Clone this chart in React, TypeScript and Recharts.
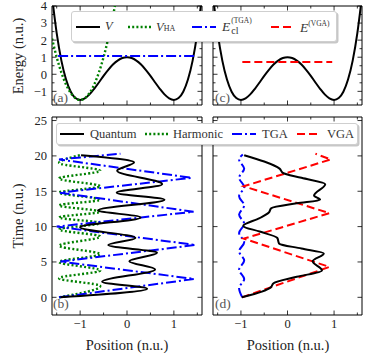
import React from "react";
import { LineChart, Line, XAxis, YAxis, ReferenceArea } from "recharts";

const SERIF = '"Liberation Serif", "DejaVu Serif", serif';
const INK = "#222";

// panels (a) and (c): double well V(x) on a position grid
const posGrid = [-1.6, -1.5, -1.4, -1.3, -1.2, -1.1, -1.0, -0.9, -0.8, -0.7, -0.6, -0.5, -0.4, -0.3, -0.2, -0.1, 0, 0.1, 0.2, 0.3, 0.4, 0.5, 0.6, 0.7, 0.8, 0.9, 1.0, 1.1, 1.2, 1.3, 1.4, 1.5, 1.6];
const potential = [4.58, 2.41, 0.8, -0.31, -1.02, -1.39, -1.5, -1.41, -1.18, -0.85, -0.48, -0.09, 0.26, 0.57, 0.8, 0.95, 1.0, 0.95, 0.8, 0.57, 0.26, -0.09, -0.48, -0.85, -1.18, -1.41, -1.5, -1.39, -1.02, -0.31, 0.8, 2.41, 4.58];

// harmonic approximation of the left well
const harmonicGrid = [-1.6, -1.5, -1.4, -1.3, -1.2, -1.1, -1.0, -0.9, -0.8, -0.7, -0.6, -0.5, -0.4, -0.3, -0.2];
const harmonicPot = [2.1, 1.0, 0.1, -0.6, -1.1, -1.4, -1.5, -1.4, -1.1, -0.6, 0.1, 1.0, 2.1, 3.4, 4.9];

// energy levels
const tgaLevelPos = [-1.47, 1.45];
const tgaLevel = [1.07, 1.07];
const vgaLevelPos = [-0.97, 0.96];
const vgaLevel = [0.72, 0.72];

// panel (b): trajectories, position (x) against time (y)
const quantumTimeB = [0, 1.2, 2.2, 3.95, 5.1, 6.3, 7.4, 8.4, 9.9, 11.3, 12.3, 13.8, 14.8, 16.0, 17.9, 19.1, 20.1];
const quantumPosB = [-1.42, 0.43, -0.53, 0.6, 0.05, 0.64, -0.4, 0.18, -1.0, 0.29, -0.62, 0.8, -0.22, 0.75, -0.21, 0.15, -0.98];
const harmonicTimeB = [0, 1.6, 2.7, 3.8, 5.0, 6.1, 7.3, 8.6, 9.6, 10.5, 11.3, 12.1, 13.0, 13.8, 14.8, 15.7, 16.8, 17.9, 19.0, 20.1];
const harmonicPosB = [-1.45, -0.57, -1.45, -0.57, -1.45, -0.57, -1.45, -0.57, -1.45, -0.57, -1.45, -0.57, -1.45, -0.57, -1.45, -0.57, -1.45, -0.57, -1.45, -1.0];
const tgaTimeB = [0, 2.6, 5.05, 7.4, 10.0, 12.1, 14.8, 16.9, 19.5, 20.3];
const tgaPosB = [-1.45, 1.43, -1.42, 1.46, -1.5, 1.42, -1.43, 1.38, -1.45, -0.14];

// panel (d)
const quantumTimeD = [0, 0.8, 1.4, 2.0, 2.9, 3.8, 5.1, 6.2, 6.9, 7.6, 8.4, 9.3, 10.1, 11.2, 12.0, 12.6, 13.3, 13.8, 14.4, 16.0, 16.9, 17.6, 18.2, 19.2, 20.1];
const quantumPosD = [-0.98, -0.55, -0.36, -0.3, 0.2, 0.74, 0.54, 0.78, 0.3, -0.18, -0.22, -0.6, -0.95, -0.6, -0.4, -0.35, 0.2, 0.7, 0.57, 0.81, 0.3, -0.1, -0.17, -0.5, -0.93];
const tgaTimeD = [0, 1.3, 2.6, 3.9, 5.2, 6.5, 7.8, 9.1, 10.4, 11.7, 13.0, 14.3, 15.6, 16.9, 18.2, 19.5, 20.2];
const tgaPosD = [-0.97, -1.04, -0.93, -1.04, -0.93, -1.04, -0.93, -1.04, -0.93, -1.04, -0.93, -1.04, -0.93, -1.04, -0.93, -1.04, -0.96];
const vgaTimeD = [0, 4.3, 8.3, 11.9, 15.7, 19.5, 20.3];
const vgaPosD = [-0.98, 0.9, -0.94, 0.9, -0.94, 0.93, 0.6];

const posTicks = [-1.5, -1, -0.5, 0, 0.5, 1, 1.5];
const energyTicks = [-1.5, -1, -0.5, 0, 0.5, 1, 1.5, 2, 2.5, 3, 3.5, 4];
const timeTicks = [0, 5, 10, 15, 20, 25];

const BLACK = "#000000";
const GREEN = "#008000";
const BLUE = "#0000ff";
const RED = "#ff0000";
const DOTTED = "2 2.2";
const DASHDOT = "10 3 2 3";
const DASHED = "8 4";

const fmt = (v: number) => (v < 0 ? `\u2212${Math.abs(v)}` : `${v}`);

type Series = {
  xs: number[];
  ys: number[];
  color: string;
  dash?: string;
  width?: number;
  curve: "monotone" | "monotoneY" | "linear";
};

const AXIS_W = 40;
const TOP_PAD = 8;

type PanelProps = {
  left: number;
  top: number;
  plotW: number;
  plotH: number;
  yDomain: [number, number];
  yTicks: number[];
  yMajor: (v: number) => boolean;
  showY: boolean;
  showX: boolean;
  series: Series[];
};

function Panel({ left, top, plotW, plotH, yDomain, yTicks, yMajor, showY, showX, series }: PanelProps) {
  const axisH = showX ? 24 : 4;

  const xTick = (p: any) => {
    const v = p.payload.value;
    const major = Number.isInteger(v);
    const len = major ? 4.5 : 2.5;
    return (
      <g>
        <line x1={p.x} x2={p.x} y1={p.y} y2={p.y - len} stroke="#000" strokeWidth={0.8} />
        <line x1={p.x} x2={p.x} y1={p.y - plotH} y2={p.y - plotH + len} stroke="#000" strokeWidth={0.8} />
        {showX && major && (
          <text x={p.x} y={p.y + 9} dy="0.35em" textAnchor="middle" fontFamily={SERIF} fontSize={12.5} fill={INK}>
            {fmt(v)}
          </text>
        )}
      </g>
    );
  };

  const yTick = (p: any) => {
    const v = p.payload.value;
    const major = yMajor(v);
    const len = major ? 4.5 : 2.5;
    return (
      <g>
        <line x1={p.x} x2={p.x + len} y1={p.y} y2={p.y} stroke="#000" strokeWidth={0.8} />
        <line x1={p.x + plotW} x2={p.x + plotW - len} y1={p.y} y2={p.y} stroke="#000" strokeWidth={0.8} />
        {showY && major && (
          <text x={p.x - 5} y={p.y} dy="0.35em" textAnchor="end" fontFamily={SERIF} fontSize={12.5} fill={INK}>
            {fmt(v)}
          </text>
        )}
      </g>
    );
  };

  return (
    <div style={{ position: "absolute", left: left - AXIS_W, top: top - TOP_PAD }}>
      <LineChart
        width={AXIS_W + plotW + 2}
        height={TOP_PAD + plotH + axisH}
        margin={{ top: TOP_PAD, right: 2, bottom: 0, left: 0 }}
      >
        <XAxis
          dataKey="x"
          type="number"
          domain={[-1.6, 1.6]}
          ticks={posTicks}
          interval={0}
          allowDataOverflow
          tick={xTick}
          tickLine={false}
          axisLine={false}
          tickSize={0}
          tickMargin={0}
          height={axisH}
        />
        <YAxis
          type="number"
          domain={yDomain}
          ticks={yTicks}
          interval={0}
          allowDataOverflow
          tick={yTick}
          tickLine={false}
          axisLine={false}
          tickSize={0}
          tickMargin={0}
          width={AXIS_W}
        />
        <ReferenceArea x1={-1.6} x2={1.6} y1={yDomain[0]} y2={yDomain[1]} fill="none" fillOpacity={0} stroke="#000" strokeWidth={1} />
        {series.map((s, i) => (
          <Line
            key={i}
            data={s.xs.map((x, j) => ({ x, y: s.ys[j] }))}
            dataKey="y"
            type={s.curve}
            stroke={s.color}
            strokeWidth={s.width ?? 2}
            strokeDasharray={s.dash}
            dot={false}
            activeDot={false}
            legendType="none"
            isAnimationActive={false}
          />
        ))}
      </LineChart>
    </div>
  );
}

const Sample = ({ x, cy, color, dash, width = 2 }: { x: number; cy: number; color: string; dash?: string; width?: number }) => (
  <svg width={24} height={6} style={{ position: "absolute", left: x, top: cy - 3 }}>
    <line x1={0} x2={24} y1={3} y2={3} stroke={color} strokeWidth={width} strokeDasharray={dash} />
  </svg>
);

const LegendText = ({ x, cy, children }: { x: number; cy: number; children: React.ReactNode }) => (
  <div
    style={{
      position: "absolute",
      left: x,
      top: cy,
      transform: "translateY(-50%)",
      fontFamily: SERIF,
      fontSize: 12.5,
      color: "#333",
      whiteSpace: "nowrap",
      lineHeight: 1,
    }}
  >
    {children}
  </div>
);

const boxStyle = (left: number, top: number, width: number, height: number): React.CSSProperties => ({
  position: "absolute",
  left,
  top,
  width,
  height,
  boxSizing: "border-box",
  background: "#fff",
  border: "1px solid #cfcfcf",
  borderRadius: 3,
  boxShadow: "1.5px 1.5px 0 rgba(0,0,0,0.22)",
});

const Tag = ({ x, cy, text }: { x: number; cy: number; text: string }) => (
  <div
    style={{
      position: "absolute",
      left: x,
      top: cy,
      transform: "translateY(-50%)",
      fontFamily: SERIF,
      fontSize: 13.5,
      color: "#555",
      lineHeight: 1,
    }}
  >
    {text}
  </div>
);

const AxisTitle = ({ cx, cy, text, vertical }: { cx: number; cy: number; text: string; vertical?: boolean }) => (
  <div
    style={{
      position: "absolute",
      left: cx,
      top: cy,
      transform: `translate(-50%, -50%)${vertical ? " rotate(-90deg)" : ""}`,
      fontFamily: SERIF,
      fontSize: 14.5,
      color: INK,
      whiteSpace: "nowrap",
      lineHeight: 1,
    }}
  >
    {text}
  </div>
);

export default function App() {
  const energyDomain: [number, number] = [-1.8, 4];
  const timeDomain: [number, number] = [-2.5, 25.5];
  const isInt = (v: number) => Number.isInteger(v);

  const seriesA: Series[] = [
    { xs: posGrid, ys: potential, color: BLACK, curve: "monotone" },
    { xs: harmonicGrid, ys: harmonicPot, color: GREEN, dash: DOTTED, width: 2.4, curve: "monotone" },
    { xs: tgaLevelPos, ys: tgaLevel, color: BLUE, dash: DASHDOT, curve: "linear" },
  ];
  const seriesC: Series[] = [
    { xs: posGrid, ys: potential, color: BLACK, curve: "monotone" },
    { xs: vgaLevelPos, ys: vgaLevel, color: RED, dash: DASHED, curve: "linear" },
  ];
  const seriesB: Series[] = [
    { xs: harmonicPosB, ys: harmonicTimeB, color: GREEN, dash: DOTTED, width: 2.4, curve: "monotoneY" },
    { xs: tgaPosB, ys: tgaTimeB, color: BLUE, dash: DASHDOT, curve: "linear" },
    { xs: quantumPosB, ys: quantumTimeB, color: BLACK, curve: "monotoneY" },
  ];
  const seriesD: Series[] = [
    { xs: tgaPosD, ys: tgaTimeD, color: BLUE, dash: DASHDOT, curve: "monotoneY" },
    { xs: vgaPosD, ys: vgaTimeD, color: RED, dash: DASHED, curve: "linear" },
    { xs: quantumPosD, ys: quantumTimeD, color: BLACK, curve: "monotoneY" },
  ];

  return (
    <div style={{ position: "absolute", left: 0, top: 0, width: 374, height: 353, background: "#fff" }}>
      <Panel left={52} top={6} plotW={150} plotH={99} yDomain={energyDomain} yTicks={energyTicks} yMajor={isInt} showY showX={false} series={seriesA} />
      <Panel left={213} top={6} plotW={149} plotH={99} yDomain={energyDomain} yTicks={energyTicks} yMajor={isInt} showY={false} showX={false} series={seriesC} />
      <Panel left={52} top={116.5} plotW={150} plotH={198} yDomain={timeDomain} yTicks={timeTicks} yMajor={isInt} showY showX series={seriesB} />
      <Panel left={213} top={116.5} plotW={149} plotH={198} yDomain={timeDomain} yTicks={timeTicks} yMajor={isInt} showY={false} showX series={seriesD} />

      <AxisTitle cx={18} cy={55.5} text="Energy (n.u.)" vertical />
      <AxisTitle cx={18} cy={215.5} text="Time (n.u.)" vertical />
      <AxisTitle cx={127} cy={345} text="Position (n.u.)" />
      <AxisTitle cx={288} cy={345} text="Position (n.u.)" />

      <Tag x={53} cy={97.5} text="(a)" />
      <Tag x={215} cy={97.5} text="(c)" />
      <Tag x={53} cy={304} text="(b)" />
      <Tag x={215} cy={304} text="(d)" />

      <div style={boxStyle(71, 11, 266, 31)}>
        <Sample x={4} cy={15} color={BLACK} />
        <LegendText x={33} cy={14}>
          <i>V</i>
        </LegendText>
        <Sample x={56} cy={15} color={GREEN} dash={DOTTED} width={2.4} />
        <LegendText x={84} cy={15}>
          <i>V</i>
          <span style={{ fontSize: 8 }}>HA</span>
        </LegendText>
        <Sample x={120} cy={15} color={BLUE} dash={DASHDOT} />
        <LegendText x={150} cy={14}>
          <span style={{ display: "inline-flex", alignItems: "center" }}>
            <i style={{ fontSize: 13.5 }}>E</i>
            <span style={{ display: "inline-flex", flexDirection: "column", lineHeight: 1, marginLeft: 1 }}>
              <span style={{ fontSize: 7.5 }}>(TGA)</span>
              <span style={{ fontSize: 10, marginTop: 1 }}>cl</span>
            </span>
          </span>
        </LegendText>
        <Sample x={199} cy={15} color={RED} dash={DASHED} />
        <LegendText x={228} cy={15}>
          <i style={{ fontSize: 13.5 }}>E</i>
          <span style={{ fontSize: 7.5, verticalAlign: 6 }}>(VGA)</span>
        </LegendText>
      </div>

      <div style={boxStyle(56, 123, 302, 22)}>
        <Sample x={3} cy={10} color={BLACK} />
        <LegendText x={33} cy={10}>Quantum</LegendText>
        <Sample x={88} cy={10} color={GREEN} dash={DOTTED} width={2.4} />
        <LegendText x={116} cy={10}>Harmonic</LegendText>
        <Sample x={175} cy={10} color={BLUE} dash={DASHDOT} />
        <LegendText x={205} cy={10}>TGA</LegendText>
        <Sample x={240} cy={10} color={RED} dash={DASHED} />
        <LegendText x={270} cy={10}>VGA</LegendText>
      </div>
    </div>
  );
}
